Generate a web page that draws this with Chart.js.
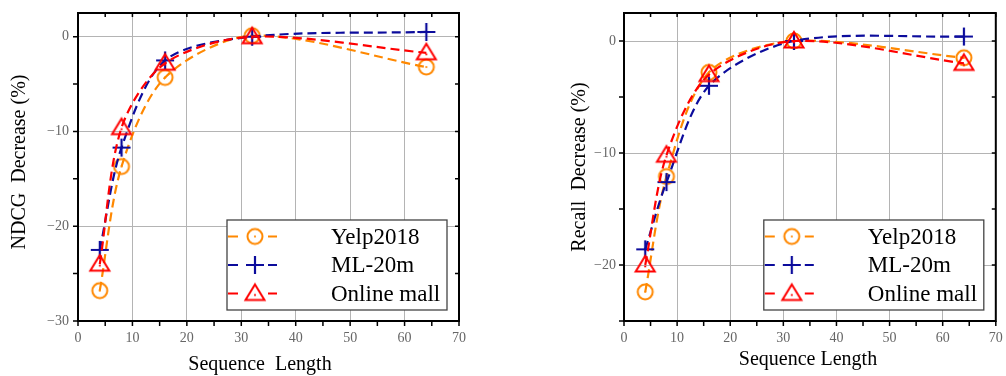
<!DOCTYPE html>
<html>
<head>
<meta charset="utf-8">
<script src="https://cdn.jsdelivr.net/npm/chart.js@4.4.1/dist/chart.umd.min.js"></script>
<style>
  body { margin: 0; background: #fff; width: 1006px; height: 376px; overflow: hidden; position: relative; }
  .panel { position: absolute; top: 0; width: 503px; height: 376px; }
</style>
</head>
<body>
<div class="panel" style="left:0"><canvas id="ndcgChart" width="503" height="376"></canvas></div>
<div class="panel" style="left:503px"><canvas id="recallChart" width="503" height="376"></canvas></div>
<script>
// values
const seqLengths = [4, 8, 16, 32, 64];
const seriesNames = ['Yelp2018', 'ML-20m', 'Online mall'];

const ndcgYelp = [-26.8, -13.7, -4.3, 0.1, -3.2];
const ndcgML   = [-22.5, -11.7, -2.5, 0.0, 0.5];
const ndcgMall = [-24.0, -9.6, -2.8, 0.0, -1.7];

const recallYelp = [-22.4, -12.1, -2.8, 0.0, -1.5];
const recallML   = [-18.6, -12.6, -4.0, 0.0, 0.4];
const recallMall = [-20.0, -10.2, -3.0, 0.0, -2.0];

const xTickValues = [0, 10, 20, 30, 40, 50, 60, 70];
const ndcgTickValues = [-30, -20, -10, 0];
const recallTickValues = [-20, -10, 0];

const colors = ['#ff8800', '#0c0c9c', '#ff0000'];
const serif = "'Liberation Serif', 'Times New Roman', serif";

// marker images (circle w/ dot, plus, triangle w/ dot)
function makeMarker(kind, color) {
    const c = document.createElement('canvas');
    c.width = 24; c.height = 24;
    const g = c.getContext('2d');
    g.strokeStyle = color;
    g.fillStyle = color;
    g.lineWidth = 2;
    if (kind === 'circle') {
        g.beginPath(); g.arc(12, 12, 7.5, 0, Math.PI * 2); g.stroke();
        g.beginPath(); g.arc(12, 12, 1.1, 0, Math.PI * 2); g.fill();
    } else if (kind === 'plus') {
        g.lineWidth = 2.2;
        g.beginPath();
        g.moveTo(3, 12); g.lineTo(21, 12);
        g.moveTo(12, 3); g.lineTo(12, 21);
        g.stroke();
    } else {
        g.beginPath();
        g.moveTo(12, 3); g.lineTo(21.5, 18.5); g.lineTo(2.5, 18.5); g.closePath();
        g.stroke();
        g.beginPath(); g.arc(12, 13.5, 1.1, 0, Math.PI * 2); g.fill();
    }
    return c;
}
const markers = [makeMarker('circle', colors[0]), makeMarker('plus', colors[1]), makeMarker('triangle', colors[2])];

const fmt = v => (v < 0 ? '\u2212' + Math.abs(v) : String(v));

const decor = {
    id: 'decor',
    afterDraw(chart, args, o) {
        const { ctx, chartArea: a, scales: { x, y } } = chart;
        ctx.save();

        // tick marks: outward on bottom/left, inward on top/right
        ctx.strokeStyle = '#000';
        ctx.lineWidth = 1.5;
        ctx.beginPath();
        for (let v = 0; v <= 70; v += 5) {
            const px = x.getPixelForValue(v);
            ctx.moveTo(px, a.bottom); ctx.lineTo(px, a.bottom + 5);
            ctx.moveTo(px, a.top); ctx.lineTo(px, a.top + 4);
        }
        for (let v = o.yMin; v <= 0; v += 5) {
            const py = y.getPixelForValue(v);
            ctx.moveTo(a.left - 5, py); ctx.lineTo(a.left, py);
            ctx.moveTo(a.right, py); ctx.lineTo(a.right - 4, py);
        }
        ctx.stroke();

        ctx.lineWidth = 2;
        ctx.strokeRect(a.left, a.top, a.right - a.left, a.bottom - a.top);

        // axis titles
        ctx.fillStyle = '#000';
        ctx.font = '20px ' + serif;
        ctx.textAlign = 'center';
        ctx.textBaseline = 'middle';
        ctx.fillText(o.xTitle, o.xTitleAt[0], o.xTitleAt[1]);
        ctx.save();
        ctx.translate(o.yTitleAt[0], o.yTitleAt[1]);
        ctx.rotate(-Math.PI / 2);
        ctx.fillText(o.yTitle, 0, 0);
        ctx.restore();

        // legend box inside the plot
        const bw = 220, bh = 90;
        const bx = a.right - 12 - bw, by = a.bottom - 11 - bh;
        ctx.fillStyle = '#fff';
        ctx.fillRect(bx, by, bw, bh);
        ctx.strokeStyle = '#444';
        ctx.lineWidth = 1.3;
        ctx.strokeRect(bx, by, bw, bh);
        ctx.font = '23px ' + serif;
        ctx.textAlign = 'left';
        chart.data.datasets.forEach((ds, i) => {
            const ry = by + 16.5 + i * 28.5;
            ctx.strokeStyle = ds.borderColor;
            ctx.lineWidth = 2.2;
            ctx.beginPath();
            ctx.moveTo(bx + 1, ry); ctx.lineTo(bx + 11, ry);
            ctx.moveTo(bx + 41, ry); ctx.lineTo(bx + 50, ry);
            ctx.stroke();
            ctx.drawImage(ds.pointStyle, bx + 28 - 12, ry - 12);
            ctx.fillStyle = '#000';
            ctx.fillText(ds.label, bx + 104, ry + 1);
        });
        ctx.restore();
    }
};

function makeChart(id, series, cfg) {
    const datasets = series.map((vals, i) => ({
        label: seriesNames[i],
        data: seqLengths.map((sx, j) => ({ x: sx, y: vals[j] })),
        borderColor: colors[i],
        backgroundColor: colors[i],
        borderWidth: 2.2,
        borderDash: [9, 5],
        tension: 0.3,
        pointStyle: markers[i],
        pointRadius: 8,
        order: 2 - i
    }));

    return new Chart(document.getElementById(id), {
        type: 'line',
        data: { datasets },
        options: {
            responsive: false,
            animation: false,
            devicePixelRatio: 1,
            layout: { padding: { left: 0, top: 13, right: 503 - cfg.right, bottom: 0 } },
            plugins: {
                legend: { display: false },
                tooltip: { enabled: false },
                decor: cfg
            },
            scales: {
                x: {
                    type: 'linear',
                    min: 0,
                    max: 70,
                    afterBuildTicks: s => { s.ticks = xTickValues.map(v => ({ value: v })); },
                    afterFit: s => { s.height = 376 - 321; s.paddingLeft = 0; s.paddingRight = 0; },
                    grid: { color: '#b4b4b4', lineWidth: 1, drawTicks: false },
                    border: { display: false },
                    ticks: {
                        padding: 9,
                        color: '#666',
                        font: { family: serif, size: 14 },
                        maxRotation: 0,
                        autoSkip: false,
                        callback: fmt
                    }
                },
                y: {
                    min: cfg.yMin,
                    max: 2.5,
                    afterBuildTicks: s => { s.ticks = cfg.yTicks.map(v => ({ value: v })); },
                    afterFit: s => { s.width = cfg.left; s.paddingTop = 0; s.paddingBottom = 0; },
                    grid: { color: '#b4b4b4', lineWidth: 1, drawTicks: false },
                    border: { display: false },
                    ticks: {
                        padding: cfg.yPad,
                        color: '#666',
                        font: { family: serif, size: 14 },
                        autoSkip: false,
                        callback: fmt
                    }
                }
            }
        },
        plugins: [decor]
    });
}

makeChart('ndcgChart', [ndcgYelp, ndcgML, ndcgMall], {
    left: 78, right: 459, yMin: -30, yTicks: ndcgTickValues, yPad: 9,
    xTitle: 'Sequence  Length', xTitleAt: [260, 365],
    yTitle: 'NDCG  Decrease (%)', yTitleAt: [20, 162]
});

makeChart('recallChart', [recallYelp, recallML, recallMall], {
    left: 121, right: 502, yMin: -25, yTicks: recallTickValues, yPad: 8,
    xTitle: 'Sequence Length', xTitleAt: [305, 360],
    yTitle: 'Recall  Decrease (%)', yTitleAt: [77, 167]
});
</script>
</body>
</html>
